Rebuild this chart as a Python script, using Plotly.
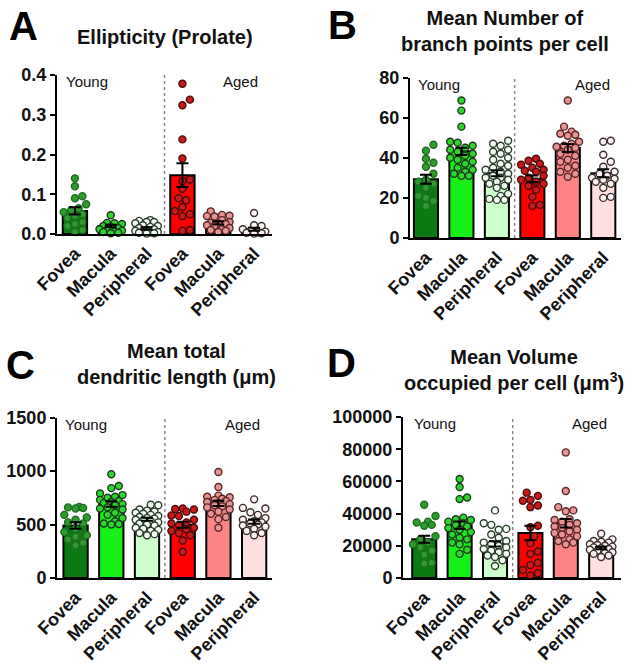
import plotly.graph_objects as go

W, H = 632, 664

REGIONS = ["Fovea", "Macula", "Peripheral", "Fovea", "Macula", "Peripheral"]

BAR_COLORS = ["#0c7a12", "#16f016", "#ccffcc", "#ff0000", "#ff8585", "#ffe0e0"]
DOT_FILL = ["#2f9b2f", "#2fd42f", "#f2fff2", "#c81a1a", "#e89494", "#fff4f4"]
DOT_LINE = ["#1f6e1f", "#1b3b1b", "#2e3a2e", "#4a0a0a", "#5a2626", "#3a2e2e"]

# ---------- A: ellipticity ----------
ell_mean = [0.058, 0.020, 0.014, 0.148, 0.028, 0.012]
ell_sem = [0.009, 0.003, 0.003, 0.030, 0.004, 0.004]
ell_pts = [
    [0.14, 0.12, 0.095, 0.09, 0.075, 0.065, 0.06, 0.055, 0.05, 0.045, 0.04, 0.03, 0.025, 0.02, 0.01, 0.005],
    [0.047, 0.028, 0.027, 0.025, 0.02, 0.018, 0.015, 0.012, 0.01, 0.008, 0.006, 0.005, 0.003, 0.002],
    [0.035, 0.033, 0.03, 0.03, 0.027, 0.022, 0.02, 0.018, 0.015, 0.012, 0.01, 0.008, 0.006, 0.005, 0.004, 0.003, 0.002, 0.001],
    [0.378, 0.338, 0.324, 0.238, 0.19, 0.137, 0.133, 0.114, 0.09, 0.085, 0.068, 0.058, 0.05, 0.045, 0.01, 0.008],
    [0.057, 0.048, 0.046, 0.045, 0.044, 0.035, 0.03, 0.028, 0.026, 0.025, 0.022, 0.02, 0.015, 0.012, 0.01, 0.008, 0.005],
    [0.053, 0.022, 0.02, 0.012, 0.008, 0.006, 0.004, 0.003, 0.002, 0.001],
]

# ---------- B: branch points ----------
br_mean = [29.3, 43.2, 32.3, 29.5, 44.9, 32.3]
br_sem = [2.2, 1.8, 1.5, 1.7, 2.0, 2.0]
br_pts = [
    [46.5, 43.5, 39.5, 37.5, 35.5, 32, 29, 28, 27, 25, 21, 20, 18.5, 16],
    [68.5, 63.5, 55.5, 48, 47.5, 46, 45, 44, 43, 42, 41, 40, 39, 38, 37, 35, 34, 33, 32, 31, 31],
    [48.5, 47, 46, 44, 43, 42, 40, 39, 37, 36, 35, 34, 33, 32, 31, 30, 30, 29, 28, 27, 26, 25, 22, 21, 19.5, 19, 19],
    [39.5, 38.5, 37, 36.5, 35, 34, 33.5, 33, 31, 30, 29, 28, 27, 26, 24, 20.5, 16.5, 16],
    [68.5, 55.5, 53, 52, 51.5, 51, 48, 47, 46, 45.5, 45, 44, 42, 41, 39, 38, 36, 35, 33, 32, 30.5],
    [48.5, 48, 41.5, 38, 35.5, 33, 32, 31, 30, 29.5, 29, 28, 27, 25, 20.5, 20],
]

# ---------- C: dendritic length ----------
len_mean = [490, 692, 549, 497, 698, 527]
len_sem = [30, 25, 15, 28, 25, 20]
len_pts = [
    [665, 660, 655, 650, 590, 565, 545, 520, 510, 460, 430, 400, 385, 360, 330, 305],
    [970, 860, 840, 790, 775, 760, 750, 730, 720, 710, 700, 690, 680, 660, 650, 640, 610, 590, 560, 530, 510, 505, 500],
    [685, 680, 640, 630, 620, 610, 600, 590, 580, 570, 560, 555, 545, 540, 530, 520, 510, 500, 490, 470, 460, 450, 440, 420, 410, 400],
    [650, 645, 640, 620, 585, 580, 545, 520, 510, 490, 470, 455, 440, 420, 400, 350, 245],
    [990, 850, 770, 760, 755, 740, 730, 720, 710, 700, 690, 680, 670, 660, 640, 620, 600, 570, 550, 470],
    [735, 655, 650, 615, 590, 560, 545, 530, 520, 510, 500, 490, 480, 460, 440, 420, 400],
]

# ---------- D: volume ----------
vol_mean = [24100, 32800, 21200, 27900, 34000, 18600]
vol_sem = [2200, 2300, 1700, 4500, 2700, 800]
vol_pts = [
    [45500, 38500, 35000, 34500, 33000, 32500, 26000, 24000, 22000, 21000, 19000, 17000, 14500, 9500, 9000],
    [61500, 56500, 50000, 49000, 37500, 36500, 36000, 35000, 34000, 33000, 32000, 31000, 30000, 28500, 27000, 25000, 24000, 22000, 21000, 17500, 15000],
    [42000, 34000, 33000, 30500, 30000, 27000, 25000, 23000, 22000, 21000, 20000, 19000, 18000, 17000, 16000, 15000, 14000, 13000, 11000, 7500],
    [53000, 51000, 48500, 48000, 45000, 44000, 32500, 31500, 26000, 21500, 16500, 15000, 9500, 8000, 5000, 3000, 1500],
    [78000, 54000, 44000, 42000, 41500, 36500, 36000, 35000, 34000, 33000, 32000, 31000, 30000, 29000, 28000, 27000, 26000, 24000, 23000, 22000, 21000],
    [27500, 24000, 23000, 22500, 22000, 21000, 20500, 20000, 19500, 19000, 18500, 18000, 17500, 17000, 16000, 15500, 15000, 14000, 13000],
]

FONT = "Liberation Sans, Arial, sans-serif"


def px_x(p):
    return p / W


def px_y(p):
    return 1 - p / H


def swarm(values, ppu_y, ppu_x, diam=7.5, max_off=11.5):
    # simple beeswarm: spread overlapping dots sideways (in pixels)
    placed = []
    out = [0.0] * len(values)
    cands = [0.0]
    k = 1
    while k * diam / 2 <= max_off:
        cands += [k * diam / 2, -k * diam / 2]
        k += 1
    for i in sorted(range(len(values)), key=lambda j: values[j]):
        yp = values[i] * ppu_y
        best, best_d = 0.0, -1
        for c in cands:
            dmin = min([((c - a) ** 2 + (yp - b) ** 2) ** 0.5 for a, b in placed] or [1e9])
            if dmin >= diam:
                best = c
                break
            if dmin > best_d:
                best, best_d = c, dmin
        placed.append((best, yp))
        out[i] = best / ppu_x
    return out


panels = [
    dict(letter="A", title="<b>Ellipticity (Prolate)</b>", mean=ell_mean, sem=ell_sem, pts=ell_pts,
         xpx=(57, 272), ypx=(75, 234), xr=[-0.5, 5.5], yr=[0, 0.4], dtick=0.1, fmt=".1f",
         letter_pos=(23, 26), title_pos=(165, 37), young_x=64, aged_x=260),
    dict(letter="B", title="<b>Mean Number of<br>branch points per cell</b>", mean=br_mean, sem=br_sem, pts=br_pts,
         xpx=(410, 621), ypx=(77.5, 238), xr=[-0.45, 5.5], yr=[0, 80], dtick=20, fmt="d",
         letter_pos=(342, 25), title_pos=(505, 31), young_x=416, aged_x=612),
    dict(letter="C", title="<b>Mean total<br>dendritic length (μm)</b>", mean=len_mean, sem=len_sem, pts=len_pts,
         xpx=(57, 272), ypx=(417.5, 578), xr=[-0.52, 5.5], yr=[0, 1500], dtick=500, fmt="d",
         letter_pos=(21, 365), title_pos=(176, 364), young_x=63, aged_x=262),
    dict(letter="D", title="<b>Mean Volume<br>occupied per cell (μm<sup>3</sup>)</b>", mean=vol_mean, sem=vol_sem, pts=vol_pts,
         xpx=(403, 621), ypx=(417, 578), xr=[-0.6, 5.56], yr=[0, 100000], dtick=20000, fmt="d",
         letter_pos=(341, 363), title_pos=(514, 370), young_x=412, aged_x=609),
]

fig = go.Figure()
annotations = []
shapes = []
xs = list(range(6))

for n, p in enumerate(panels, start=1):
    xa, ya = f"x{n}", f"y{n}"
    ppu_x = (p["xpx"][1] - p["xpx"][0]) / (p["xr"][1] - p["xr"][0])
    ppu_y = (p["ypx"][1] - p["ypx"][0]) / (p["yr"][1] - p["yr"][0])

    fig.add_trace(go.Bar(
        x=xs, y=p["mean"], width=0.68, xaxis=xa, yaxis=ya,
        marker=dict(color=BAR_COLORS, line=dict(color="black", width=2)),
    ))
    for i, vals in enumerate(p["pts"]):
        offs = swarm(vals, ppu_y, ppu_x)
        fig.add_trace(go.Scatter(
            x=[i + o for o in offs], y=vals, mode="markers", xaxis=xa, yaxis=ya, cliponaxis=False,
            marker=dict(size=7, color=DOT_FILL[i], line=dict(color=DOT_LINE[i], width=1.4)),
        ))
    fig.add_trace(go.Scatter(
        x=xs, y=p["mean"], mode="markers", xaxis=xa, yaxis=ya,
        marker=dict(size=1, color="rgba(0,0,0,0)"),
        error_y=dict(type="data", array=p["sem"], color="black", thickness=2, width=6),
    ))

    axis_common = dict(showline=True, linecolor="black", linewidth=2, showgrid=False, automargin=False,
                       zeroline=False, tickfont=dict(family=FONT, size=18, color="#111", weight="bold"))
    fig.layout[f"xaxis{n}" if n > 1 else "xaxis"] = dict(
        axis_common, domain=[px_x(p["xpx"][0]), px_x(p["xpx"][1])], range=p["xr"], anchor=ya,
        tickvals=xs, ticktext=REGIONS, tickangle=-45, ticks="",
    )
    fig.layout[f"yaxis{n}" if n > 1 else "yaxis"] = dict(
        axis_common, domain=[px_y(p["ypx"][1]), px_y(p["ypx"][0])], range=p["yr"], anchor=xa,
        dtick=p["dtick"], tick0=0, tickformat=p["fmt"], ticks="outside", ticklen=5, tickwidth=2,
        tickcolor="black",
    )

    shapes.append(dict(type="line", xref=xa, yref=ya, x0=2.5, x1=2.5, y0=0, y1=p["yr"][1],
                       line=dict(color="#888", width=1.5, dash="dot")))

    annotations.append(dict(text=f"<b>{p['letter']}</b>", xref="paper", yref="paper",
                            x=px_x(p["letter_pos"][0]), y=px_y(p["letter_pos"][1]),
                            xanchor="center", yanchor="middle", showarrow=False,
                            font=dict(family=FONT, size=40, color="black")))
    annotations.append(dict(text=p["title"], xref="paper", yref="paper",
                            x=px_x(p["title_pos"][0]), y=px_y(p["title_pos"][1]),
                            xanchor="center", yanchor="middle", showarrow=False,
                            font=dict(family=FONT, size=20, color="#111")))
    top = p["ypx"][0] + 7
    annotations.append(dict(text="Young", xref="paper", yref="paper",
                            x=px_x(p["young_x"]), y=px_y(top), xanchor="left", yanchor="middle",
                            showarrow=False, font=dict(family=FONT, size=15, color="#111")))
    annotations.append(dict(text="Aged", xref="paper", yref="paper",
                            x=px_x(p["aged_x"]), y=px_y(top), xanchor="right", yanchor="middle",
                            showarrow=False, font=dict(family=FONT, size=15, color="#111")))

fig.update_layout(
    width=W, height=H, autosize=False,
    margin=dict(l=0, r=0, t=0, b=0, autoexpand=False),
    paper_bgcolor="white", plot_bgcolor="white",
    showlegend=False, hovermode=False,
    annotations=annotations, shapes=shapes,
    font=dict(family=FONT),
)

# page body has a default 8px margin; remove it so the figure fills the window
fig.write_html("out.html", post_script="document.body.style.margin='0px';",
               config={"displayModeBar": False})
